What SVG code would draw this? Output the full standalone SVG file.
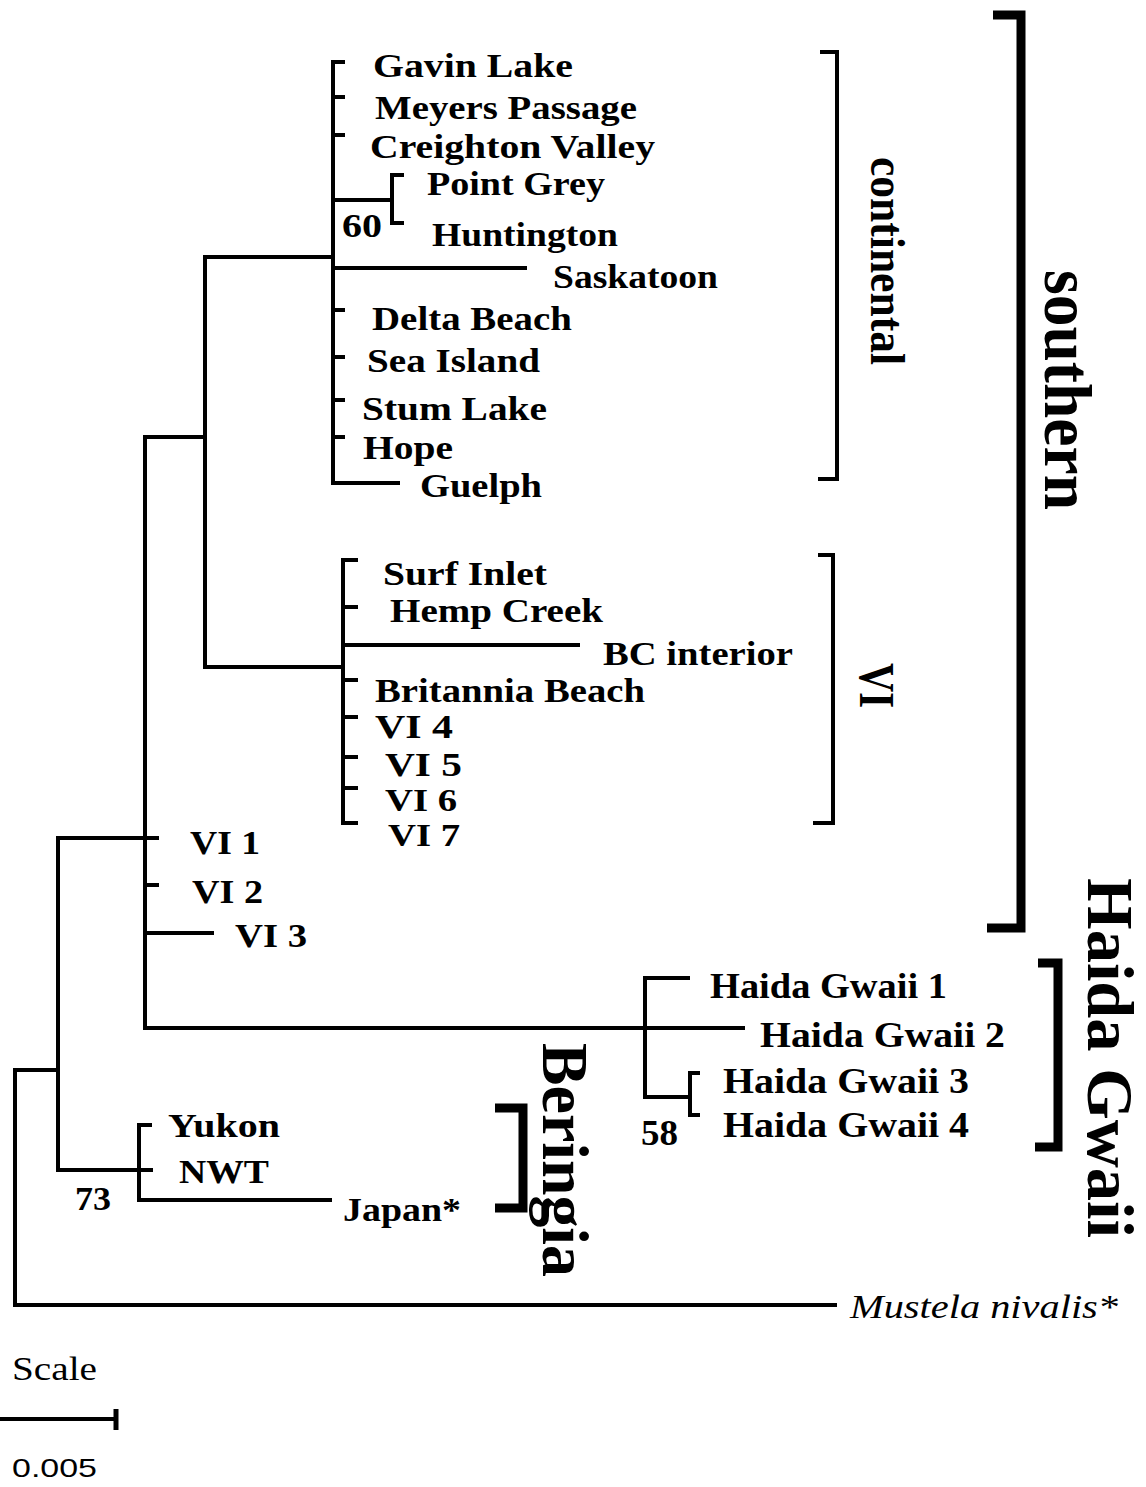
<svg xmlns="http://www.w3.org/2000/svg" width="1146" height="1487" viewBox="0 0 1146 1487">
<style>
.br{fill:none;stroke:#000;stroke-width:4;stroke-linecap:square}
.bk{fill:none;stroke:#000;stroke-width:4;stroke-linejoin:miter}
.bkt{fill:none;stroke:#000;stroke-width:9;stroke-linejoin:miter}
.lb{font-family:"Liberation Serif","Times New Roman",serif;font-weight:bold;font-size:34px;fill:#000}
.hg{font-size:35px}
.sm{font-size:31px}
.big{font-family:"Liberation Serif","Times New Roman",serif;font-weight:bold;fill:#000}
.reg{font-family:"Liberation Serif","Times New Roman",serif;font-size:34px;fill:#000}
</style>
<rect width="1146" height="1487" fill="#fff"/>
<g id="connectors">
<path class="br" d="M333,62V483M333,62H343M333,97H343M333,135H343M333,200H392M392,175V223M392,175H402M392,223H402M333,268H525M205,257H333M333,310H343M333,357H343M333,400H343M333,437H343M333,483H398"/>
<path class="br" d="M205,257V667M205,667H343M145,437H205"/>
<path class="br" d="M343,560V823M343,560H356M343,607H356M343,645H578M343,680H356M343,717H356M343,757H356M343,788H356M343,823H356"/>
<path class="br" d="M145,437V1028M58,838H157M145,885H157M145,933H212M145,1028H743"/>
<path class="br" d="M645,978V1097M645,978H688M645,1097H690M690,1073V1115M690,1073H698M690,1115H698"/>
<path class="br" d="M58,838V1170M58,1170H151M139,1125V1200M139,1125H150M139,1200H330"/>
<path class="br" d="M15,1070H58M15,1070V1305M15,1305H835"/>
</g>
<g id="brackets">
<path id="br-continental" class="bk" d="M820,52H837V479H818"/>
<path id="br-southern" class="bkt" d="M993,15H1021V928H987"/>
<path id="br-VI" class="bk" d="M818,555H833V823H813"/>
<path id="br-haida" class="bkt" d="M1038,963H1058V1147H1035"/>
<path id="br-beringia" class="bkt" d="M495,1108H523V1208H495"/>
</g>
<g id="taxa">
<g id="n-gavin"><text class="lb" x="373" y="77" textLength="200" lengthAdjust="spacingAndGlyphs">Gavin Lake</text></g>
<g id="n-meyers"><text class="lb" x="375" y="119" textLength="262" lengthAdjust="spacingAndGlyphs">Meyers Passage</text></g>
<g id="n-creighton"><text class="lb" x="370" y="158" textLength="285" lengthAdjust="spacingAndGlyphs">Creighton Valley</text></g>
<g id="n-pointgrey"><text class="lb" x="427" y="195" textLength="178" lengthAdjust="spacingAndGlyphs">Point Grey</text></g>
<g id="n-huntington"><text class="lb" x="432" y="246" textLength="186" lengthAdjust="spacingAndGlyphs">Huntington</text></g>
<g id="b-60"><text class="lb" x="342" y="237" textLength="40" lengthAdjust="spacingAndGlyphs">60</text></g>
<g id="n-saskatoon"><text class="lb" x="553" y="288" textLength="165" lengthAdjust="spacingAndGlyphs">Saskatoon</text></g>
<g id="n-delta"><text class="lb" x="372" y="330" textLength="200" lengthAdjust="spacingAndGlyphs">Delta Beach</text></g>
<g id="n-seaisland"><text class="lb" x="367" y="372" textLength="173" lengthAdjust="spacingAndGlyphs">Sea Island</text></g>
<g id="n-stum"><text class="lb" x="362" y="420" textLength="185" lengthAdjust="spacingAndGlyphs">Stum Lake</text></g>
<g id="n-hope"><text class="lb" x="363" y="459" textLength="90" lengthAdjust="spacingAndGlyphs">Hope</text></g>
<g id="n-guelph"><text class="lb" x="420" y="497" textLength="122" lengthAdjust="spacingAndGlyphs">Guelph</text></g>
<g id="n-surf"><text class="lb" x="383" y="585" textLength="164" lengthAdjust="spacingAndGlyphs">Surf Inlet</text></g>
<g id="n-hemp"><text class="lb" x="390" y="622" textLength="213" lengthAdjust="spacingAndGlyphs">Hemp Creek</text></g>
<g id="n-bcinterior"><text class="lb" x="603" y="665" textLength="190" lengthAdjust="spacingAndGlyphs">BC interior</text></g>
<g id="n-britannia"><text class="lb" x="375" y="702" textLength="270" lengthAdjust="spacingAndGlyphs">Britannia Beach</text></g>
<g id="n-vi4"><text class="lb" x="375" y="738" textLength="78" lengthAdjust="spacingAndGlyphs">VI 4</text></g>
<g id="n-vi5"><text class="lb" x="385" y="776" textLength="77" lengthAdjust="spacingAndGlyphs">VI 5</text></g>
<g id="n-vi6"><text class="lb sm" x="385" y="811" textLength="72" lengthAdjust="spacingAndGlyphs">VI 6</text></g>
<g id="n-vi7"><text class="lb sm" x="388" y="846" textLength="72" lengthAdjust="spacingAndGlyphs">VI 7</text></g>
<g id="n-vi1"><text class="lb" x="190" y="854" textLength="70" lengthAdjust="spacingAndGlyphs">VI 1</text></g>
<g id="n-vi2"><text class="lb" x="192" y="903" textLength="71" lengthAdjust="spacingAndGlyphs">VI 2</text></g>
<g id="n-vi3"><text class="lb" x="235" y="947" textLength="72" lengthAdjust="spacingAndGlyphs">VI 3</text></g>
<g id="n-hg1"><text class="lb hg" x="710" y="998" textLength="237" lengthAdjust="spacingAndGlyphs">Haida Gwaii 1</text></g>
<g id="n-hg2"><text class="lb hg" x="760" y="1047" textLength="245" lengthAdjust="spacingAndGlyphs">Haida Gwaii 2</text></g>
<g id="n-hg3"><text class="lb hg" x="723" y="1093" textLength="246" lengthAdjust="spacingAndGlyphs">Haida Gwaii 3</text></g>
<g id="n-hg4"><text class="lb hg" x="723" y="1137" textLength="246" lengthAdjust="spacingAndGlyphs">Haida Gwaii 4</text></g>
<g id="b-58"><text class="lb hg" x="641" y="1145" textLength="37" lengthAdjust="spacingAndGlyphs">58</text></g>
<g id="n-yukon"><text class="lb" x="168" y="1137" textLength="112" lengthAdjust="spacingAndGlyphs">Yukon</text></g>
<g id="n-nwt"><text class="lb" x="179" y="1183" textLength="90" lengthAdjust="spacingAndGlyphs">NWT</text></g>
<g id="n-japan"><text class="lb" x="343" y="1221" textLength="118" lengthAdjust="spacingAndGlyphs">Japan*</text></g>
<g id="b-73"><text class="lb" x="75" y="1210" textLength="36" lengthAdjust="spacingAndGlyphs">73</text></g>
<g id="n-mustela"><text class="reg" x="850" y="1318" font-style="italic" textLength="268" lengthAdjust="spacingAndGlyphs">Mustela nivalis*</text></g>
</g>
<g id="groups">
<g id="g-continental"><text class="big" font-size="48" transform="translate(871,157) rotate(90)" textLength="208" lengthAdjust="spacingAndGlyphs">continental</text></g>
<g id="g-southern"><text class="big" font-size="68" transform="translate(1045,270) rotate(90)" textLength="240" lengthAdjust="spacingAndGlyphs">southern</text></g>
<g id="g-VI"><text class="big" font-size="50" transform="translate(860,663) rotate(90)" textLength="45" lengthAdjust="spacingAndGlyphs">VI</text></g>
<g id="g-haida"><text class="big" font-size="66" transform="translate(1088,878) rotate(90)" textLength="360" lengthAdjust="spacingAndGlyphs">Haida Gwaii</text></g>
<g id="g-beringia"><text class="big" font-size="66" transform="translate(543,1043) rotate(90)" textLength="234" lengthAdjust="spacingAndGlyphs">Beringia</text></g>
</g>
<g id="scale">
<text class="reg" x="12" y="1380" textLength="85" lengthAdjust="spacingAndGlyphs">Scale</text>
<path class="br" d="M0,1419H116" stroke-linecap="butt"/>
<path d="M116,1409V1430" stroke="#000" stroke-width="5" fill="none"/>
<text x="12" y="1477" font-family="'Liberation Sans',Arial,sans-serif" font-size="26" textLength="85" lengthAdjust="spacingAndGlyphs">0.005</text>
</g>
</svg>
